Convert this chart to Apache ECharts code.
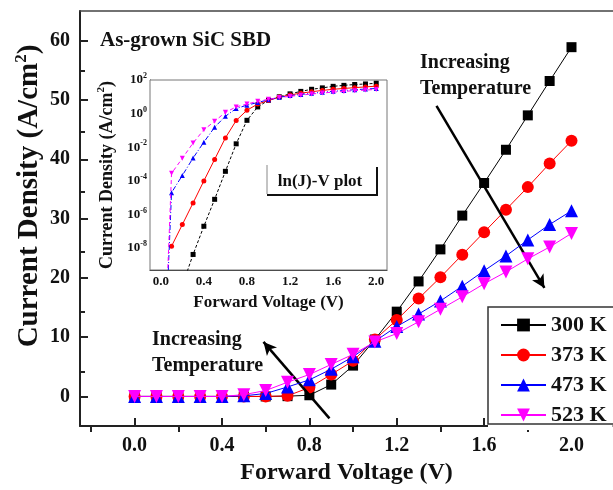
<!DOCTYPE html>
<html>
<head>
<meta charset="utf-8">
<script src="https://cdn.jsdelivr.net/npm/echarts@6.0.0/dist/echarts.min.js"></script>
<style>
html, body { margin: 0; padding: 0; background: #fff; }
#chart { width: 613px; height: 490px; }
</style>
</head>
<body>
<div id="chart"></div>
<script>
// forward voltage (V), same steps for main plot and inset
const voltage = [0.0, 0.1, 0.2, 0.3, 0.4, 0.5, 0.6, 0.7, 0.8, 0.9, 1.0,
                 1.1, 1.2, 1.3, 1.4, 1.5, 1.6, 1.7, 1.8, 1.9, 2.0];

// main plot, current density (A/cm2), linear
const j300 = [0, 0, 0, 0, 0, 0, 0, 0.05, 0.2, 2.0, 5.2, 9.6, 14.3, 19.4, 24.8, 30.5, 36.0, 41.6, 47.4, 53.2, 58.9];
const j373 = [0, 0, 0, 0, 0, 0, 0, 0.1, 1.5, 3.7, 6.0, 9.6, 12.9, 16.5, 20.1, 23.9, 27.7, 31.5, 35.3, 39.3, 43.1];
const j473 = [0, 0, 0, 0, 0, 0.1, 0.5, 1.6, 2.8, 4.6, 6.7, 9.3, 11.8, 13.9, 16.1, 18.6, 21.2, 23.7, 26.4, 29.0, 31.3];
const j523 = [0, 0, 0, 0, 0, 0.3, 1.0, 2.4, 3.7, 5.4, 7.1, 9.2, 10.6, 12.6, 14.7, 16.8, 19.0, 21.0, 23.2, 25.2, 27.5];

// inset, ln(J)-V plot (log scale), null = not plotted
const log300 = [null, null, 6e-11, 4.2e-9, 2e-7, 8e-6, 3.7e-4, 1.6e-2, 0.4, 2.5, 6.3, 10, 15, 21, 28, 34, 42, 48, 54, 58, 64];
const log373 = [null, 1.3e-8, 2.5e-7, 4.9e-6, 1e-4, 1.9e-3, 3.6e-2, 0.39, 1.6, 3.7, 6.0, 9.6, 12.9, 16.5, 20, 24, 28, 31.5, 35, 39, 43];
const log473 = [1e-20, 2e-5, 2.1e-4, 2.3e-3, 2e-2, 0.155, 0.7, 2.0, 3.2, 4.6, 6.7, 9.3, 11.8, 13.9, 16.1, 18.6, 21.2, 23.7, 26.4, 29, 31.3];
const log523 = [1e-20, 2.8e-4, 2.2e-3, 1.8e-2, 0.11, 0.35, 1.2, 2.5, 3.7, 5.4, 7.1, 9.2, 10.6, 12.6, 14.7, 16.8, 19, 21, 23.2, 25.2, 27.5];

const names = ['300 K', '373 K', '473 K', '523 K'];
const colors = ['#000000', '#ff0000', '#0000ff', '#ff00ff'];

// tick labels
const xMajor = [0, 0.4, 0.8, 1.2, 1.6, 2.0];
const xMinor = [-0.2, 0.2, 0.6, 1.0, 1.4, 1.8];
const yMajor = [0, 10, 20, 30, 40, 50, 60];
const yMinor = [5, 15, 25, 35, 45, 55];
const insetXTicks = [0, 0.2, 0.4, 0.6, 0.8, 1.0, 1.2, 1.4, 1.6, 1.8, 2.0];
const insetYLabels = [1e-8, 1e-6, 1e-4, 1e-2, 1, 100];
const insetYTicks = [1e-9, 1e-8, 1e-7, 1e-6, 1e-5, 1e-4, 1e-3, 1e-2, 1e-1, 1, 10, 100];

// arrow annotations in data coordinates [V, J]
const arrowHigh = [[1.382, 49.0], [1.876, 18.3]];
const arrowLow = [[0.892, -3.7], [0.590, 9.2]];

const FONT = 'Liberation Serif';
const X_MIN = -0.25, X_MAX = 2.19;

function pairs(xs, ys) {
    let out = [];
    for (let i = 0; i < xs.length; i++) {
        if (ys[i] != null) out.push([xs[i], ys[i]]);
    }
    return out;
}

const mainSymbols = [
    { symbol: 'rect', size: 10, rotate: 0 },
    { symbol: 'circle', size: 12, rotate: 0 },
    { symbol: 'triangle', size: 13, rotate: 0 },
    { symbol: 'triangle', size: 13, rotate: 180 }
];
const insetDash = [[3, 2], 'solid', [5, 2, 1, 2], [4, 3]];

const mainData = [j300, j373, j473, j523];
const insetData = [log300, log373, log473, log523];

let seriesList = [];
for (let i = 0; i < names.length; i++) {
    let s = {
        name: names[i],
        type: 'line',
        xAxisIndex: 0,
        yAxisIndex: 0,
        data: pairs(voltage, mainData[i]),
        symbol: mainSymbols[i].symbol,
        symbolSize: mainSymbols[i].size,
        symbolRotate: mainSymbols[i].rotate,
        showAllSymbol: true,
        lineStyle: { color: colors[i], width: 1 },
        itemStyle: { color: colors[i] },
        z: 3 + i
    };
    if (i === 0) {
        s.markLine = {
            silent: true,
            symbol: ['none', 'arrow'],
            symbolSize: [10, 13],
            label: { show: false },
            lineStyle: { color: '#000', width: 2.5, type: 'solid' },
            data: [
                [{ coord: arrowHigh[0] }, { coord: arrowHigh[1] }],
                [{ coord: arrowLow[0] }, { coord: arrowLow[1] }]
            ]
        };
    }
    seriesList.push(s);
}
for (let i = 0; i < names.length; i++) {
    seriesList.push({
        name: names[i] + ' inset',
        type: 'line',
        xAxisIndex: 2,
        yAxisIndex: 2,
        data: pairs(voltage, insetData[i]),
        symbol: mainSymbols[i].symbol,
        symbolSize: 5,
        symbolRotate: mainSymbols[i].rotate,
        showAllSymbol: true,
        lineStyle: { color: colors[i], width: 1, type: insetDash[i] },
        itemStyle: { color: colors[i] },
        z: 20 + i
    });
}

const boldText = { fontFamily: FONT, fontWeight: 'bold', color: '#111' };

const option = {
    animation: false,
    backgroundColor: '#fff',
    textStyle: { fontFamily: FONT },
    grid: [
        { left: 80, top: 11, right: 0, height: 421, show: false },
        { left: 150, top: 80, width: 237, height: 190, show: true, backgroundColor: '#fff', borderColor: '#777', borderWidth: 1, z: 10 },
        { left: 80, top: 11, right: 0, height: 421, show: false }
    ],
    legend: {
        data: names,
        orient: 'vertical',
        left: 488,
        top: 307,
        padding: [7, 6, 4, 12],
        itemWidth: 45,
        itemHeight: 16,
        itemGap: 8,
        selectedMode: false,
        borderWidth: 0,
        backgroundColor: '#fff',
        textStyle: Object.assign({ fontSize: 22 }, boldText)
    },
    xAxis: [
        {
            gridIndex: 0, type: 'value', min: X_MIN, max: X_MAX,
            axisLine: { onZero: false, lineStyle: { color: '#222', width: 2 } },
            axisTick: { inside: true, length: 8, customValues: xMajor, lineStyle: { color: '#222', width: 2 } },
            axisLabel: Object.assign({ customValues: xMajor, fontSize: 20, margin: 10, formatter: v => v.toFixed(1) }, boldText),
            splitLine: { show: false },
            name: 'Forward Voltage (V)',
            nameLocation: 'middle',
            nameGap: 33,
            nameTextStyle: Object.assign({ fontSize: 24 }, boldText)
        },
        {
            gridIndex: 2, type: 'value', min: X_MIN, max: X_MAX,
            axisLine: { show: false, onZero: false },
            axisTick: { inside: true, length: 5, customValues: xMinor, lineStyle: { color: '#222', width: 2 } },
            axisLabel: { show: false },
            splitLine: { show: false }
        },
        {
            gridIndex: 1, type: 'value', min: -0.1, max: 2.1,
            axisLine: { onZero: false, lineStyle: { color: '#222', width: 1 } },
            axisTick: { inside: true, length: 3, customValues: insetXTicks, lineStyle: { color: '#222' } },
            axisLabel: Object.assign({ customValues: xMajor, fontSize: 13, margin: 5, formatter: v => v.toFixed(1) }, boldText),
            splitLine: { show: false },
            name: 'Forward Voltage (V)',
            nameLocation: 'middle',
            nameGap: 24,
            nameTextStyle: Object.assign({ fontSize: 17 }, boldText)
        },
        {
            // top frame line of the main plot
            gridIndex: 2, type: 'value', position: 'top', min: X_MIN, max: X_MAX,
            axisLine: { onZero: false, lineStyle: { color: '#444', width: 1.5 } },
            axisTick: { show: false },
            axisLabel: { show: false },
            splitLine: { show: false }
        }
    ],
    yAxis: [
        {
            gridIndex: 0, type: 'value', min: -5, max: 65,
            axisLine: { onZero: false, lineStyle: { color: '#222', width: 2 } },
            axisTick: { inside: true, length: 8, customValues: yMajor, lineStyle: { color: '#222', width: 2 } },
            axisLabel: Object.assign({ customValues: yMajor, fontSize: 20, margin: 10 }, boldText),
            splitLine: { show: false }
        },
        {
            gridIndex: 2, type: 'value', min: -5, max: 65,
            axisLine: { show: false, onZero: false },
            axisTick: { inside: true, length: 5, customValues: yMinor, lineStyle: { color: '#222', width: 2 } },
            axisLabel: { show: false },
            splitLine: { show: false }
        },
        {
            gridIndex: 1, type: 'log', logBase: 10, min: 5e-10, max: 100,
            axisLine: { onZero: false, lineStyle: { color: '#222', width: 1 } },
            axisTick: { inside: true, length: 3, customValues: insetYTicks, lineStyle: { color: '#222' } },
            axisLabel: {
                customValues: insetYLabels,
                margin: 3,
                formatter: function (v) {
                    return '{b|10}{s|' + Math.round(Math.log10(v)) + '}';
                },
                rich: {
                    b: Object.assign({ fontSize: 13, lineHeight: 16 }, boldText),
                    s: Object.assign({ fontSize: 8, lineHeight: 16, verticalAlign: 'top' }, boldText)
                }
            },
            splitLine: { show: false },
            name: '{a|Current Density (A/cm}{s|2}{a|)}',
            nameLocation: 'middle',
            nameGap: 32,
            nameTextStyle: {
                rich: {
                    a: Object.assign({ fontSize: 18, lineHeight: 22 }, boldText),
                    s: Object.assign({ fontSize: 11, lineHeight: 22, verticalAlign: 'top' }, boldText)
                }
            }
        }
    ],
    graphic: [
        {
            type: 'text', x: 30, y: 196, rotation: Math.PI / 2,
            style: {
                text: '{a|Current Density (A/cm}{s|2}{a|)}',
                align: 'center', verticalAlign: 'middle',
                rich: {
                    a: { fontFamily: FONT, fontWeight: 'bold', fontSize: 29, lineHeight: 34, fill: '#111' },
                    s: { fontFamily: FONT, fontWeight: 'bold', fontSize: 17, lineHeight: 34, verticalAlign: 'top', fill: '#111' }
                }
            }
        },
        {
            type: 'text', left: 100, top: 30,
            style: { text: 'As-grown SiC SBD', fontFamily: FONT, fontWeight: 'bold', fontSize: 21, fill: '#111' }
        },
        {
            type: 'text', left: 420, top: 50,
            style: { text: 'Increasing\nTemperature', fontFamily: FONT, fontWeight: 'bold', fontSize: 20, lineHeight: 26, fill: '#111' }
        },
        {
            type: 'text', left: 152, top: 327,
            style: { text: 'Increasing\nTemperature', fontFamily: FONT, fontWeight: 'bold', fontSize: 20, lineHeight: 26, fill: '#111' }
        },
        {
            type: 'text', x: 320, y: 182, z: 30,
            style: { text: 'ln(J)-V plot', align: 'center', verticalAlign: 'middle', fontFamily: FONT, fontWeight: 'bold', fontSize: 17, fill: '#111' }
        },
        {
            type: 'polyline', z: 30,
            shape: { points: [[267, 165], [267, 194]] },
            style: { stroke: '#888', lineWidth: 1, fill: null }
        },
        {
            type: 'polyline', z: 30,
            shape: { points: [[267, 195], [377, 195], [377, 167]] },
            style: { stroke: '#111', lineWidth: 2, fill: null }
        },
        {
            // legend frame, open to the right where it runs off the picture
            type: 'polyline', z: 100,
            shape: { points: [[620, 307], [488, 307], [488, 424], [620, 424]] },
            style: { stroke: '#333', lineWidth: 1.5, fill: null }
        }
    ],
    series: seriesList
};

const chart = echarts.init(document.getElementById('chart'));
chart.setOption(option);
</script>
</body>
</html>
